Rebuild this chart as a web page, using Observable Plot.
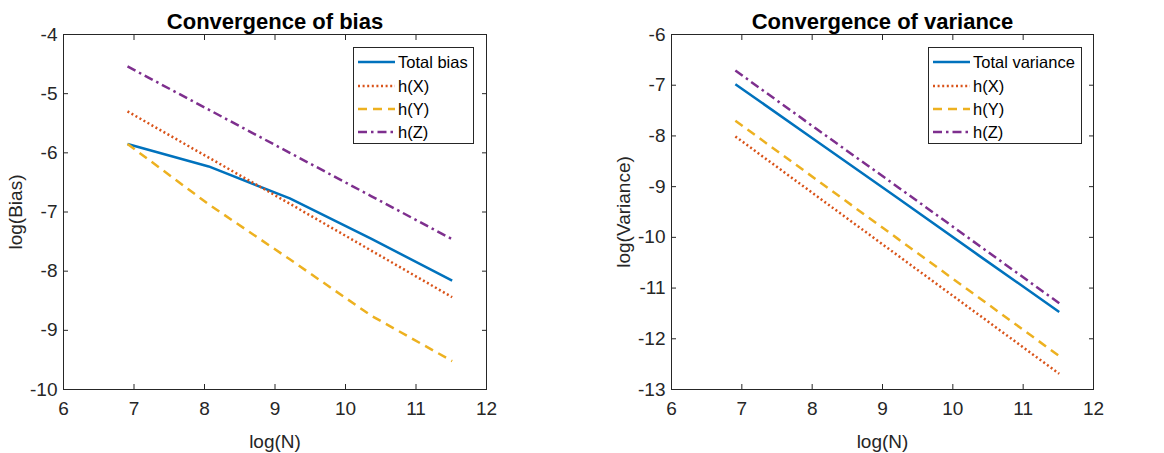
<!DOCTYPE html>
<html>
<head>
<meta charset="utf-8">
<script src="https://cdn.jsdelivr.net/npm/d3@7"></script>
<script src="https://cdn.jsdelivr.net/npm/@observablehq/plot@0.6"></script>
<style>
  body { margin: 0; background: #fff; font-family: "Liberation Sans", Arial, Helvetica, sans-serif; }
  #wrap { position: relative; width: 1164px; height: 453px; display: flex; }
  .legend { position: absolute; background: #fff; border: 1px solid #262626; box-sizing: border-box; }
</style>
</head>
<body>
<div id="wrap"></div>
<script>
// ---- data ----
const logN = [6.908, 8.059, 9.210, 10.362, 11.513];

const biasTotal = [-5.85, -6.23, -6.77, -7.45, -8.16];
const biasHX    = [-5.30, -6.08, -6.86, -7.65, -8.44];
const biasHY    = [-5.85, -6.87, -7.80, -8.75, -9.52];
const biasHZ    = [-4.54, -5.27, -6.00, -6.73, -7.46];

const varTotal = [-6.98, -8.10, -9.22, -10.35, -11.47];
const varHX    = [-8.01, -9.18, -10.35, -11.52, -12.69];
const varHY    = [-7.70, -8.86, -10.02, -11.18, -12.34];
const varHZ    = [-6.71, -7.86, -9.00, -10.15, -11.30];

const xTicks = [6, 7, 8, 9, 10, 11, 12];
const biasTicks = [-10, -9, -8, -7, -6, -5, -4];
const varTicks = [-13, -12, -11, -10, -9, -8, -7, -6];

const colors = ["#0072BD", "#D95319", "#EDB120", "#7E2F8E"];
const dashes = [null, "2,2.6", "9,6", "9,4,2.5,4"];

const biasNames = ["Total bias", "h(X)", "h(Y)", "h(Z)"];
const varNames = ["Total variance", "h(X)", "h(Y)", "h(Z)"];

const FONT = '"Liberation Sans", Arial, Helvetica, sans-serif';
const AX = "#262626";
const fmt = d => String(d);

function series(arrs) {
  return arrs.map(a => a.map((v, i) => ({x: logN[i], y: v})));
}

function makeChart({title, ylabel, yDomain, yTicks, data, margins}) {
  const marks = [];
  data.forEach((d, k) => {
    marks.push(Plot.line(d, {x: "x", y: "y", stroke: colors[k], strokeWidth: 2.5,
      strokeDasharray: dashes[k] || undefined, strokeLinecap: "butt"}));
  });
  marks.push(Plot.frame({stroke: AX, strokeWidth: 1}));
  marks.push(Plot.axisX(xTicks, {anchor: "bottom", tickSize: -5, tickPadding: 17, fontSize: 19,
    tickFormat: fmt, fill: AX, stroke: AX, label: "log(N)", labelAnchor: "center", labelOffset: 58, labelArrow: "none"}));
  marks.push(Plot.axisX(xTicks, {anchor: "top", tickSize: -5, tickFormat: () => "", label: null, stroke: AX}));
  marks.push(Plot.axisY(yTicks, {anchor: "left", tickSize: -5, tickPadding: 11, fontSize: 19,
    tickFormat: fmt, fill: AX, stroke: AX, label: ylabel, labelAnchor: "center", labelOffset: 55, labelArrow: "none"}));
  marks.push(Plot.axisY(yTicks, {anchor: "right", tickSize: -5, tickFormat: () => "", label: null, stroke: AX}));
  marks.push(Plot.text([title], {frameAnchor: "top", dy: -21, fontSize: 22, fontWeight: "bold", fill: "#000"}));
  return Plot.plot({
    width: 582, height: 453,
    marginLeft: margins[0], marginRight: margins[1], marginTop: 34, marginBottom: 64,
    style: {fontFamily: FONT, fontSize: "20px", color: AX, background: "#fff", overflow: "visible"},
    x: {domain: [6, 12]},
    y: {domain: yDomain},
    marks
  });
}

function makeLegend(names, left, top, width, height, sampleW) {
  const div = document.createElement("div");
  div.className = "legend";
  Object.assign(div.style, {left: left + "px", top: top + "px", width: width + "px", height: height + "px"});
  const rows = [14, 38, 61, 84];
  const svg = d3.create("svg").attr("width", width - 2).attr("height", height - 2);
  names.forEach((n, k) => {
    svg.append("line").attr("x1", 4).attr("x2", 4 + sampleW).attr("y1", rows[k]).attr("y2", rows[k])
      .attr("stroke", colors[k]).attr("stroke-width", 2.5).attr("stroke-dasharray", dashes[k]);
    svg.append("text").attr("x", sampleW + 7).attr("y", rows[k]).attr("dy", "0.35em")
      .attr("font-family", FONT).attr("font-size", 16.5).attr("fill", "#000").text(n);
  });
  div.appendChild(svg.node());
  return div;
}

const wrap = document.getElementById("wrap");
wrap.appendChild(makeChart({
  title: "Convergence of bias", ylabel: "log(Bias)", yDomain: [-10, -4], yTicks: biasTicks,
  data: series([biasTotal, biasHX, biasHY, biasHZ]), margins: [63, 96]
}));
wrap.appendChild(makeChart({
  title: "Convergence of variance", ylabel: "log(Variance)", yDomain: [-13, -6], yTicks: varTicks,
  data: series([varTotal, varHX, varHY, varHZ]), margins: [89, 71]
}));
wrap.appendChild(makeLegend(biasNames, 353, 47, 121, 97, 37));
wrap.appendChild(makeLegend(varNames, 928, 47, 154, 97, 37));
</script>
</body>
</html>
